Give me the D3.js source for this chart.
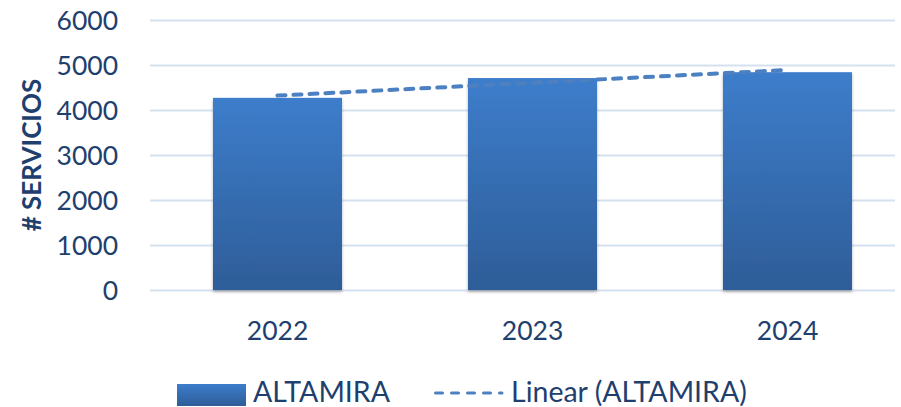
<!DOCTYPE html>
<html><head><meta charset="utf-8">
<script src="https://cdn.jsdelivr.net/npm/d3@7"></script>
<style>body{margin:0;background:#fff;} svg{display:block;}</style>
</head><body>
<svg id="c" width="901" height="407"></svg>
<script>
const categories = ["2022", "2023", "2024"];
const values = [4270, 4710, 4840];
const trendValues = [4320, 4605, 4890];
const yTicks = [0, 1000, 2000, 3000, 4000, 5000, 6000];
const seriesName = "ALTAMIRA";
const trendName = "Linear (ALTAMIRA)";
const yTitle = "# SERVICIOS";

const svg = d3.select("#c");
const textColor = "#1f3f6e";
const font = "Lato, 'Open Sans', sans-serif";

const x = d3.scaleBand().domain(categories).range([150, 915]).paddingInner(0.494).paddingOuter(0.247);
const y = d3.scaleLinear().domain([0, 6000]).range([290, 20]);

const defs = svg.append("defs");
const g = defs.append("linearGradient").attr("id", "bg").attr("x1", 0).attr("y1", 0).attr("x2", 0).attr("y2", 1);
g.append("stop").attr("offset", "0%").attr("stop-color", "#3d7dcb");
g.append("stop").attr("offset", "100%").attr("stop-color", "#2e5d98");
const lg = defs.append("linearGradient").attr("id", "lg").attr("x1", 0).attr("y1", 0).attr("x2", 0).attr("y2", 1);
lg.append("stop").attr("offset", "0%").attr("stop-color", "#3d7dcb");
lg.append("stop").attr("offset", "100%").attr("stop-color", "#2e5d98");
const f = defs.append("filter").attr("id", "sh").attr("x", "-10%").attr("y", "-10%").attr("width", "120%").attr("height", "130%");
f.append("feDropShadow").attr("dx", 0).attr("dy", 2).attr("stdDeviation", 1.5).attr("flood-color", "#000").attr("flood-opacity", 0.3);

// gridlines
svg.append("g").selectAll("line").data(yTicks).join("line")
  .attr("x1", 150).attr("x2", 895)
  .attr("y1", d => y(d) + 0.5).attr("y2", d => y(d) + 0.5)
  .attr("stroke", "#d6e1f0").attr("stroke-width", 2);

// y axis labels
const yAxis = d3.axisLeft(y).tickValues(yTicks).tickFormat(d3.format("d")).tickSize(0).tickPadding(0);
const ya = svg.append("g").attr("transform", "translate(118,0)").call(yAxis);
ya.select(".domain").remove();
ya.selectAll("text").attr("fill", textColor).style("font-family", font).style("font-size", "26.5px").attr("dy", "0.36em");

// bars
svg.append("g").selectAll("rect").data(values).join("rect")
  .attr("x", (d, i) => x(categories[i]))
  .attr("width", x.bandwidth())
  .attr("y", d => y(d))
  .attr("height", d => y(0) - y(d))
  .attr("fill", "url(#bg)")
  .attr("filter", "url(#sh)");

// trend line
const line = d3.line().x((d, i) => x(categories[i]) + x.bandwidth() / 2).y(d => y(d));
svg.append("path").datum(trendValues).attr("d", line)
  .attr("fill", "none").attr("stroke", "#4d80c0").attr("stroke-width", 4)
  .attr("stroke-dasharray", "8,8").attr("stroke-linecap", "round");

// x axis labels
const xAxis = d3.axisBottom(x).tickSize(0).tickPadding(0);
const xa = svg.append("g").attr("transform", "translate(0,340)").call(xAxis);
xa.select(".domain").remove();
xa.selectAll("text").attr("fill", textColor).style("font-family", font).style("font-size", "26.5px").attr("dy", 0);

// y title
svg.append("text").attr("transform", "translate(41,155) rotate(-90)")
  .attr("text-anchor", "middle").attr("fill", textColor)
  .style("font-family", font).style("font-size", "26px").style("font-weight", "bold")
  .text(yTitle);

// legend
const leg = svg.append("g");
leg.append("rect").attr("x", 177).attr("y", 384).attr("width", 69).attr("height", 22).attr("fill", "url(#lg)");
leg.append("text").attr("x", 253).attr("y", 402).attr("fill", textColor)
  .style("font-family", font).style("font-size", "28.5px").text(seriesName);
leg.append("line").attr("x1", 435.5).attr("x2", 502).attr("y1", 393).attr("y2", 393)
  .attr("stroke", "#4d80c0").attr("stroke-width", 3).attr("stroke-dasharray", "7,9").attr("stroke-linecap", "round");
leg.append("text").attr("x", 511).attr("y", 402).attr("fill", textColor)
  .style("font-family", font).style("font-size", "28.5px").text(trendName);
</script>
</body></html>
